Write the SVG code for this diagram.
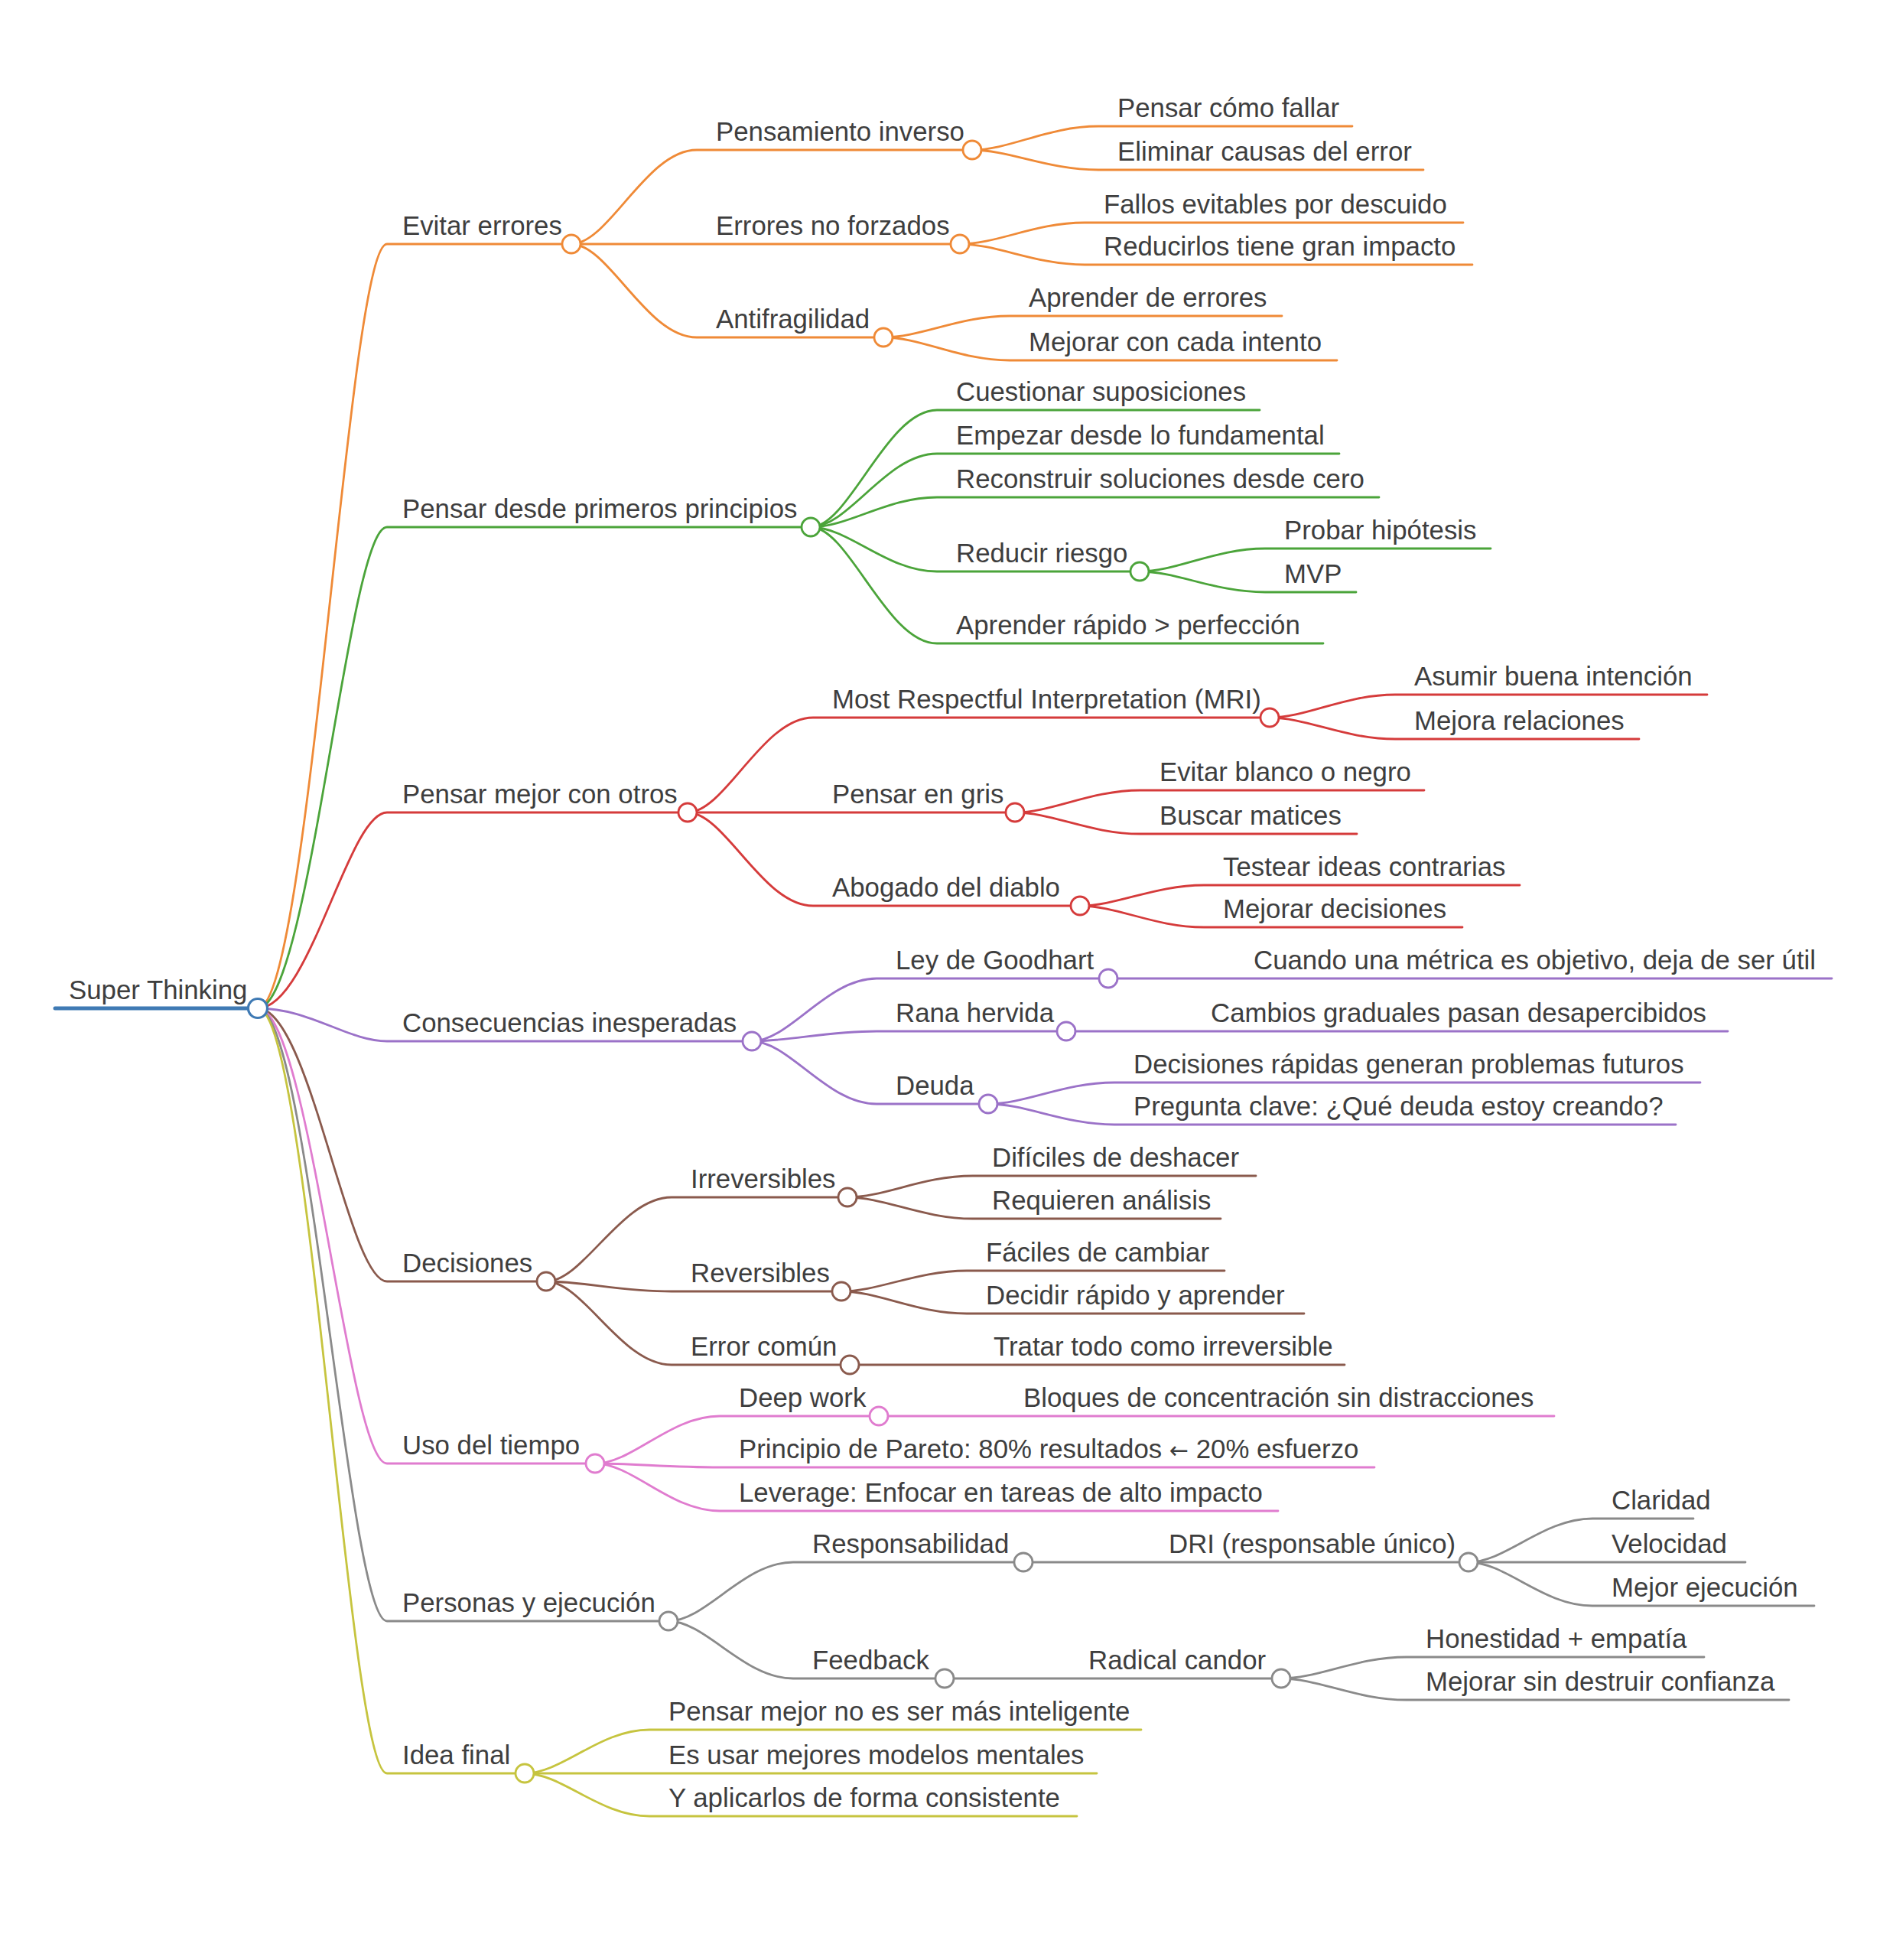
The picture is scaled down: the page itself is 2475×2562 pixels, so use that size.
<svg xmlns="http://www.w3.org/2000/svg" width="2475" height="2562" viewBox="0 0 2475 2562">
<style>
text{font-family:"Liberation Sans",Arial,sans-serif;font-size:34.8px;fill:#3e3e3e}
.arw{font-family:"DejaVu Sans",sans-serif;font-size:30px}
path{fill:none;stroke-width:2.8;stroke-linecap:round}
circle{fill:#fff;stroke-width:2.8}
.b{stroke:#3f7ab4}.o{stroke:#ef8a37}.g{stroke:#4ba43a}.r{stroke:#d53b3b}.p{stroke:#9b72c8}.br{stroke:#8a5a4d}.pk{stroke:#e07ccf}.gy{stroke:#8a8a8a}.ol{stroke:#c6c43f}
</style>
<rect width="2475" height="2562" fill="#fff"/>
<g id="connectors">
<path class="b" d="M72 1318 H337" style="stroke-width:5"/>
<path class="o" d="M337 1318 C405 1318 455 319 506 319 H747"/>
<path class="g" d="M337 1318 C405 1318 455 689 506 689 H1060"/>
<path class="r" d="M337 1318 C405 1318 455 1062 506 1062 H899"/>
<path class="p" d="M337 1318 C405 1318 455 1361 506 1361 H983"/>
<path class="br" d="M337 1318 C405 1318 455 1675 506 1675 H714"/>
<path class="pk" d="M337 1318 C405 1318 455 1913 506 1913 H778"/>
<path class="gy" d="M337 1318 C405 1318 455 2119 506 2119 H874"/>
<path class="ol" d="M337 1318 C405 1318 455 2318 506 2318 H686"/>
<path class="o" d="M747 319 C796 319 845 196 911 196 H1271"/>
<path class="o" d="M747 319 H1255"/>
<path class="o" d="M747 319 C796 319 845 441 911 441 H1155"/>
<path class="o" d="M1271 196 C1320 196 1370 165 1436 165 H1768"/>
<path class="o" d="M1271 196 C1320 196 1370 222 1436 222 H1861"/>
<path class="o" d="M1255 319 C1304 319 1353 291 1418 291 H1913"/>
<path class="o" d="M1255 319 C1304 319 1353 346 1418 346 H1925"/>
<path class="o" d="M1155 441 C1205 441 1254 413 1320 413 H1676"/>
<path class="o" d="M1155 441 C1205 441 1254 471 1320 471 H1748"/>
<path class="g" d="M1060 689 C1110 689 1159 536 1225 536 H1647"/>
<path class="g" d="M1060 689 C1110 689 1159 593 1225 593 H1751"/>
<path class="g" d="M1060 689 C1110 689 1159 650 1225 650 H1803"/>
<path class="g" d="M1060 689 C1110 689 1159 747 1225 747 H1490"/>
<path class="g" d="M1060 689 C1110 689 1159 841 1225 841 H1730"/>
<path class="g" d="M1490 747 C1539 747 1588 717 1654 717 H1949"/>
<path class="g" d="M1490 747 C1539 747 1588 774 1654 774 H1773"/>
<path class="r" d="M899 1062 C948 1062 997 938 1063 938 H1660"/>
<path class="r" d="M899 1062 H1327"/>
<path class="r" d="M899 1062 C948 1062 997 1184 1063 1184 H1412"/>
<path class="r" d="M1660 938 C1709 938 1758 908 1824 908 H2232"/>
<path class="r" d="M1660 938 C1709 938 1758 966 1824 966 H2143"/>
<path class="r" d="M1327 1062 C1376 1062 1425 1033 1491 1033 H1862"/>
<path class="r" d="M1327 1062 C1376 1062 1425 1090 1491 1090 H1774"/>
<path class="r" d="M1412 1184 C1461 1184 1509 1157 1574 1157 H1987"/>
<path class="r" d="M1412 1184 C1461 1184 1509 1212 1574 1212 H1912"/>
<path class="p" d="M983 1361 C1032 1361 1081 1279 1146 1279 H1449"/>
<path class="p" d="M983 1361 C1032 1361 1081 1348 1146 1348 H1394"/>
<path class="p" d="M983 1361 C1032 1361 1081 1443 1146 1443 H1292"/>
<path class="p" d="M1449 1279 H2395"/>
<path class="p" d="M1394 1348 H2259"/>
<path class="p" d="M1292 1443 C1342 1443 1391 1415 1457 1415 H2223"/>
<path class="p" d="M1292 1443 C1342 1443 1391 1470 1457 1470 H2191"/>
<path class="br" d="M714 1675 C763 1675 812 1565 878 1565 H1108"/>
<path class="br" d="M714 1675 C763 1675 812 1688 878 1688 H1100"/>
<path class="br" d="M714 1675 C763 1675 812 1784 878 1784 H1111"/>
<path class="br" d="M1108 1565 C1157 1565 1206 1537 1272 1537 H1642"/>
<path class="br" d="M1108 1565 C1157 1565 1206 1593 1272 1593 H1596"/>
<path class="br" d="M1100 1688 C1149 1688 1198 1661 1264 1661 H1601"/>
<path class="br" d="M1100 1688 C1149 1688 1198 1717 1264 1717 H1705"/>
<path class="br" d="M1111 1784 H1758"/>
<path class="pk" d="M778 1913 C827 1913 876 1851 941 1851 H1149"/>
<path class="pk" d="M778 1913 C827 1913 876 1918 941 1918 H1797"/>
<path class="pk" d="M778 1913 C827 1913 876 1975 941 1975 H1671"/>
<path class="pk" d="M1149 1851 H2032"/>
<path class="gy" d="M874 2119 C923 2119 972 2042 1037 2042 H1338"/>
<path class="gy" d="M874 2119 C923 2119 972 2194 1037 2194 H1235"/>
<path class="gy" d="M1338 2042 H1920"/>
<path class="gy" d="M1920 2042 C1969 2042 2017 1985 2082 1985 H2214"/>
<path class="gy" d="M1920 2042 H2282"/>
<path class="gy" d="M1920 2042 C1969 2042 2017 2099 2082 2099 H2372"/>
<path class="gy" d="M1235 2194 H1675"/>
<path class="gy" d="M1675 2194 C1724 2194 1773 2166 1839 2166 H2228"/>
<path class="gy" d="M1675 2194 C1724 2194 1773 2222 1839 2222 H2339"/>
<path class="ol" d="M686 2318 C735 2318 784 2261 849 2261 H1492"/>
<path class="ol" d="M686 2318 H1434"/>
<path class="ol" d="M686 2318 C735 2318 784 2374 849 2374 H1408"/>
</g>
<g id="root"><text x="90" y="1306">Super Thinking</text><circle class="b" cx="337" cy="1318" r="12.5" style="stroke-width:3.2"/></g>
<g id="evitar-errores"><text x="526" y="307">Evitar errores</text><circle class="o" cx="747" cy="319" r="12"/></g>
<g id="pensamiento-inverso"><text x="936" y="184">Pensamiento inverso</text><circle class="o" cx="1271" cy="196" r="12"/></g>
<g id="pensar-como-fallar"><text x="1461" y="153">Pensar cómo fallar</text></g>
<g id="eliminar-causas"><text x="1461" y="210">Eliminar causas del error</text></g>
<g id="errores-no-forzados"><text x="936" y="307">Errores no forzados</text><circle class="o" cx="1255" cy="319" r="12"/></g>
<g id="fallos-evitables"><text x="1443" y="279">Fallos evitables por descuido</text></g>
<g id="reducirlos"><text x="1443" y="334">Reducirlos tiene gran impacto</text></g>
<g id="antifragilidad"><text x="936" y="429">Antifragilidad</text><circle class="o" cx="1155" cy="441" r="12"/></g>
<g id="aprender-errores"><text x="1345" y="401">Aprender de errores</text></g>
<g id="mejorar-intento"><text x="1345" y="459">Mejorar con cada intento</text></g>
<g id="primeros-principios"><text x="526" y="677">Pensar desde primeros principios</text><circle class="g" cx="1060" cy="689" r="12"/></g>
<g id="cuestionar"><text x="1250" y="524">Cuestionar suposiciones</text></g>
<g id="empezar"><text x="1250" y="581">Empezar desde lo fundamental</text></g>
<g id="reconstruir"><text x="1250" y="638">Reconstruir soluciones desde cero</text></g>
<g id="reducir-riesgo"><text x="1250" y="735">Reducir riesgo</text><circle class="g" cx="1490" cy="747" r="12"/></g>
<g id="probar-hipotesis"><text x="1679" y="705">Probar hipótesis</text></g>
<g id="mvp"><text x="1679" y="762">MVP</text></g>
<g id="aprender-rapido"><text x="1250" y="829">Aprender rápido &gt; perfección</text></g>
<g id="pensar-con-otros"><text x="526" y="1050">Pensar mejor con otros</text><circle class="r" cx="899" cy="1062" r="12"/></g>
<g id="mri"><text x="1088" y="926">Most Respectful Interpretation (MRI)</text><circle class="r" cx="1660" cy="938" r="12"/></g>
<g id="asumir"><text x="1849" y="896">Asumir buena intención</text></g>
<g id="mejora-relaciones"><text x="1849" y="954">Mejora relaciones</text></g>
<g id="pensar-gris"><text x="1088" y="1050">Pensar en gris</text><circle class="r" cx="1327" cy="1062" r="12"/></g>
<g id="evitar-blanco"><text x="1516" y="1021">Evitar blanco o negro</text></g>
<g id="buscar-matices"><text x="1516" y="1078">Buscar matices</text></g>
<g id="abogado"><text x="1088" y="1172">Abogado del diablo</text><circle class="r" cx="1412" cy="1184" r="12"/></g>
<g id="testear"><text x="1599" y="1145">Testear ideas contrarias</text></g>
<g id="mejorar-decisiones"><text x="1599" y="1200">Mejorar decisiones</text></g>
<g id="consecuencias"><text x="526" y="1349">Consecuencias inesperadas</text><circle class="p" cx="983" cy="1361" r="12"/></g>
<g id="goodhart"><text x="1171" y="1267">Ley de Goodhart</text><circle class="p" cx="1449" cy="1279" r="12"/></g>
<g id="cuando-metrica"><text x="1639" y="1267">Cuando una métrica es objetivo, deja de ser útil</text></g>
<g id="rana"><text x="1171" y="1336">Rana hervida</text><circle class="p" cx="1394" cy="1348" r="12"/></g>
<g id="cambios-graduales"><text x="1583" y="1336">Cambios graduales pasan desapercibidos</text></g>
<g id="deuda"><text x="1171" y="1431">Deuda</text><circle class="p" cx="1292" cy="1443" r="12"/></g>
<g id="decisiones-rapidas"><text x="1482" y="1403">Decisiones rápidas generan problemas futuros</text></g>
<g id="pregunta-clave"><text x="1482" y="1458">Pregunta clave: ¿Qué deuda estoy creando?</text></g>
<g id="decisiones"><text x="526" y="1663">Decisiones</text><circle class="br" cx="714" cy="1675" r="12"/></g>
<g id="irreversibles"><text x="903" y="1553">Irreversibles</text><circle class="br" cx="1108" cy="1565" r="12"/></g>
<g id="dificiles"><text x="1297" y="1525">Difíciles de deshacer</text></g>
<g id="requieren"><text x="1297" y="1581">Requieren análisis</text></g>
<g id="reversibles"><text x="903" y="1676">Reversibles</text><circle class="br" cx="1100" cy="1688" r="12"/></g>
<g id="faciles"><text x="1289" y="1649">Fáciles de cambiar</text></g>
<g id="decidir-rapido"><text x="1289" y="1705">Decidir rápido y aprender</text></g>
<g id="error-comun"><text x="903" y="1772">Error común</text><circle class="br" cx="1111" cy="1784" r="12"/></g>
<g id="tratar-todo"><text x="1299" y="1772">Tratar todo como irreversible</text></g>
<g id="uso-tiempo"><text x="526" y="1901">Uso del tiempo</text><circle class="pk" cx="778" cy="1913" r="12"/></g>
<g id="deep-work"><text x="966" y="1839">Deep work</text><circle class="pk" cx="1149" cy="1851" r="12"/></g>
<g id="bloques"><text x="1338" y="1839">Bloques de concentración sin distracciones</text></g>
<g id="pareto"><text x="966" y="1906">Principio de Pareto: 80% resultados <tspan class="arw">←</tspan> 20% esfuerzo</text></g>
<g id="leverage"><text x="966" y="1963">Leverage: Enfocar en tareas de alto impacto</text></g>
<g id="personas"><text x="526" y="2107">Personas y ejecución</text><circle class="gy" cx="874" cy="2119" r="12"/></g>
<g id="responsabilidad"><text x="1062" y="2030">Responsabilidad</text><circle class="gy" cx="1338" cy="2042" r="12"/></g>
<g id="dri"><text x="1528" y="2030">DRI (responsable único)</text><circle class="gy" cx="1920" cy="2042" r="12"/></g>
<g id="claridad"><text x="2107" y="1973">Claridad</text></g>
<g id="velocidad"><text x="2107" y="2030">Velocidad</text></g>
<g id="mejor-ejecucion"><text x="2107" y="2087">Mejor ejecución</text></g>
<g id="feedback"><text x="1062" y="2182">Feedback</text><circle class="gy" cx="1235" cy="2194" r="12"/></g>
<g id="radical-candor"><text x="1423" y="2182">Radical candor</text><circle class="gy" cx="1675" cy="2194" r="12"/></g>
<g id="honestidad"><text x="1864" y="2154">Honestidad + empatía</text></g>
<g id="mejorar-sin"><text x="1864" y="2210">Mejorar sin destruir confianza</text></g>
<g id="idea-final"><text x="526" y="2306">Idea final</text><circle class="ol" cx="686" cy="2318" r="12"/></g>
<g id="pensar-mejor-no"><text x="874" y="2249">Pensar mejor no es ser más inteligente</text></g>
<g id="es-usar"><text x="874" y="2306">Es usar mejores modelos mentales</text></g>
<g id="y-aplicarlos"><text x="874" y="2362">Y aplicarlos de forma consistente</text></g>
</svg>
